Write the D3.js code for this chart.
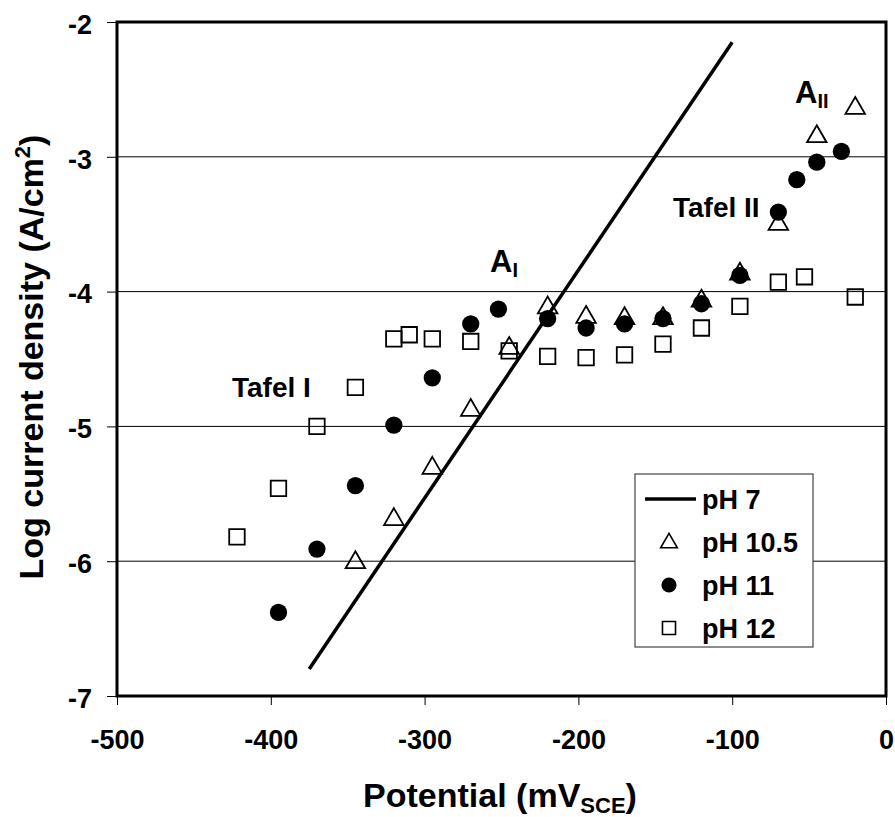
<!DOCTYPE html>
<html>
<head>
<meta charset="utf-8">
<script src="https://cdn.jsdelivr.net/npm/d3@7"></script>
<style>
  html, body { margin: 0; padding: 0; background: #fff; }
  svg { display: block; font-family: "Liberation Sans", Arial, sans-serif; font-weight: bold; }
</style>
</head>
<body>
<svg id="chart" width="895" height="817"></svg>
<script>
// ------------------------
// Data
// ------------------------
const xTicks = [ -500, -400, -300, -200, -100, 0 ];
const yTicks = [ -7, -6, -5, -4, -3, -2 ];

// pH 7: straight Tafel line
const pH7X = [ -375, -100 ];
const pH7Y = [ -6.8, -2.15 ];

const pH105X = [ -345, -320, -295, -270, -245, -220, -195, -170, -145, -120, -95, -70, -45, -20 ];
const pH105Y = [ -6.01, -5.69, -5.31, -4.88, -4.42, -4.12, -4.19, -4.2, -4.2, -4.07, -3.87, -3.5, -2.85, -2.64 ];

const pH11X = [ -395, -370, -345, -320, -295, -270, -252, -220, -195, -170, -145, -120, -95, -70, -58, -45, -29 ];
const pH11Y = [ -6.38, -5.91, -5.44, -4.99, -4.64, -4.24, -4.13, -4.2, -4.27, -4.24, -4.2, -4.09, -3.88, -3.41, -3.17, -3.04, -2.96 ];

const pH12X = [ -422, -395, -370, -345, -320, -310, -295, -270, -245, -220, -195, -170, -145, -120, -95, -70, -53, -20 ];
const pH12Y = [ -5.82, -5.46, -5.0, -4.71, -4.35, -4.32, -4.35, -4.37, -4.44, -4.48, -4.49, -4.47, -4.39, -4.27, -4.11, -3.93, -3.89, -4.04 ];

const zip = ( xs, ys ) => xs.map( ( x, i ) => ( { x, y: ys[ i ] } ) );

// ------------------------
// Layout
// ------------------------
const margin = { top: 22, right: 9, bottom: 121, left: 117 };
const W = 895, H = 817;

const svg = d3.select( '#chart' );

const x = d3.scaleLinear()
	.domain( [ -500, 0 ] )
	.range( [ margin.left, W - margin.right ] );

const y = d3.scaleLinear()
	.domain( [ -7, -2 ] )
	.range( [ H - margin.bottom, margin.top ] );

// plain hyphen minus, like the original
const fmt = d => String( d );

// gridlines
svg.append( 'g' )
	.selectAll( 'line' )
	.data( yTicks.slice( 1, -1 ) )
	.join( 'line' )
	.attr( 'x1', x( -500 ) )
	.attr( 'x2', x( 0 ) )
	.attr( 'y1', d => y( d ) )
	.attr( 'y2', d => y( d ) )
	.attr( 'stroke', '#000' )
	.attr( 'stroke-width', 1 );

// axes
const xAxis = d3.axisBottom( x )
	.tickValues( xTicks )
	.tickFormat( fmt )
	.tickSize( 9 )
	.tickPadding( 25 );

const gx = svg.append( 'g' )
	.attr( 'transform', `translate(0, ${ y( -7 ) })` )
	.call( xAxis );
gx.select( '.domain' ).remove();
gx.selectAll( 'line' ).attr( 'stroke', '#000' );
gx.selectAll( 'text' )
	.attr( 'fill', '#000' )
	.style( 'font-size', '27px' )
	.style( 'font-family', '"Liberation Sans", Arial, sans-serif' )
	.style( 'font-weight', 'bold' );

const yAxis = d3.axisLeft( y )
	.tickValues( yTicks )
	.tickFormat( fmt )
	.tickSize( 10 )
	.tickPadding( 15 );

const gy = svg.append( 'g' )
	.attr( 'transform', `translate(${ x( -500 ) }, 0)` )
	.call( yAxis );
gy.select( '.domain' ).remove();
gy.selectAll( 'line' ).attr( 'stroke', '#000' );
gy.selectAll( 'text' )
	.attr( 'fill', '#000' )
	.attr( 'dy', '0.42em' )
	.style( 'font-size', '27px' )
	.style( 'font-family', '"Liberation Sans", Arial, sans-serif' )
	.style( 'font-weight', 'bold' );

// pH 7 line
const line = d3.line().x( d => x( d.x ) ).y( d => y( d.y ) );
svg.append( 'path' )
	.datum( zip( pH7X, pH7Y ) )
	.attr( 'd', line )
	.attr( 'fill', 'none' )
	.attr( 'stroke', '#000' )
	.attr( 'stroke-width', 3.5 );

// markers
const triangle = d3.symbol().type( d3.symbolTriangle ).size( 165 );
const circle = d3.symbol().type( d3.symbolCircle ).size( 235 );
const square = d3.symbol().type( d3.symbolSquare ).size( 240 );

svg.append( 'g' )
	.selectAll( 'path' )
	.data( zip( pH105X, pH105Y ) )
	.join( 'path' )
	.attr( 'd', triangle )
	.attr( 'transform', d => `translate(${ x( d.x ) }, ${ y( d.y ) })` )
	.attr( 'fill', 'none' )
	.attr( 'stroke', '#000' )
	.attr( 'stroke-width', 1.8 );

svg.append( 'g' )
	.selectAll( 'path' )
	.data( zip( pH11X, pH11Y ) )
	.join( 'path' )
	.attr( 'd', circle )
	.attr( 'transform', d => `translate(${ x( d.x ) }, ${ y( d.y ) })` )
	.attr( 'fill', '#000' );

svg.append( 'g' )
	.selectAll( 'path' )
	.data( zip( pH12X, pH12Y ) )
	.join( 'path' )
	.attr( 'd', square )
	.attr( 'transform', d => `translate(${ x( d.x ) }, ${ y( d.y ) })` )
	.attr( 'fill', 'none' )
	.attr( 'stroke', '#000' )
	.attr( 'stroke-width', 1.8 );

// frame
svg.append( 'rect' )
	.attr( 'x', x( -500 ) )
	.attr( 'y', y( -2 ) )
	.attr( 'width', x( 0 ) - x( -500 ) )
	.attr( 'height', y( -7 ) - y( -2 ) )
	.attr( 'fill', 'none' )
	.attr( 'stroke', '#000' )
	.attr( 'stroke-width', 3 );

// annotations
const notes = svg.append( 'g' ).attr( 'fill', '#000' );
notes.append( 'text' ).attr( 'x', 232 ).attr( 'y', 397 ).style( 'font-size', '28px' ).text( 'Tafel I' );
notes.append( 'text' ).attr( 'x', 673 ).attr( 'y', 217 ).style( 'font-size', '28px' ).text( 'Tafel II' );

const a1 = notes.append( 'text' ).attr( 'x', 490 ).attr( 'y', 272 ).style( 'font-size', '31px' );
a1.append( 'tspan' ).text( 'A' );
a1.append( 'tspan' ).attr( 'dy', 5 ).style( 'font-size', '20px' ).text( 'I' );

const a2 = notes.append( 'text' ).attr( 'x', 795 ).attr( 'y', 103 ).style( 'font-size', '31px' );
a2.append( 'tspan' ).text( 'A' );
a2.append( 'tspan' ).attr( 'dy', 5 ).style( 'font-size', '20px' ).text( 'II' );

// legend
const legend = svg.append( 'g' ).attr( 'transform', 'translate(635, 474)' );
legend.append( 'rect' )
	.attr( 'width', 178 )
	.attr( 'height', 173 )
	.attr( 'fill', '#fff' )
	.attr( 'stroke', '#444' )
	.attr( 'stroke-width', 1.2 );

const legendItems = [ 'pH 7', 'pH 10.5', 'pH 11', 'pH 12' ];
const rowY = i => 25 + i * 43;

legend.append( 'line' )
	.attr( 'x1', 10 ).attr( 'x2', 61 )
	.attr( 'y1', rowY( 0 ) ).attr( 'y2', rowY( 0 ) )
	.attr( 'stroke', '#000' ).attr( 'stroke-width', 3.5 );
legend.append( 'path' )
	.attr( 'd', d3.symbol().type( d3.symbolTriangle ).size( 120 ) )
	.attr( 'transform', `translate(34, ${ rowY( 1 ) + 1 })` )
	.attr( 'fill', 'none' ).attr( 'stroke', '#000' ).attr( 'stroke-width', 1.6 );
legend.append( 'path' )
	.attr( 'd', d3.symbol().type( d3.symbolCircle ).size( 180 ) )
	.attr( 'transform', `translate(34, ${ rowY( 2 ) })` )
	.attr( 'fill', '#000' );
legend.append( 'path' )
	.attr( 'd', d3.symbol().type( d3.symbolSquare ).size( 170 ) )
	.attr( 'transform', `translate(34, ${ rowY( 3 ) })` )
	.attr( 'fill', 'none' ).attr( 'stroke', '#000' ).attr( 'stroke-width', 1.6 );

legend.selectAll( 'text' )
	.data( legendItems )
	.join( 'text' )
	.attr( 'x', 67 )
	.attr( 'y', ( d, i ) => rowY( i ) )
	.attr( 'dy', '0.36em' )
	.style( 'font-size', '27px' )
	.text( d => d );

// axis titles
const xt = svg.append( 'text' )
	.attr( 'x', 500 )
	.attr( 'y', 807 )
	.attr( 'text-anchor', 'middle' )
	.style( 'font-size', '34px' );
xt.append( 'tspan' ).text( 'Potential (mV' );
xt.append( 'tspan' ).attr( 'dy', 6 ).style( 'font-size', '22px' ).text( 'SCE' );
xt.append( 'tspan' ).attr( 'dy', -6 ).text( ')' );

const yt = svg.append( 'text' )
	.attr( 'transform', 'translate(43, 357) rotate(-90)' )
	.attr( 'text-anchor', 'middle' )
	.style( 'font-size', '34px' );
yt.append( 'tspan' ).text( 'Log current density (A/cm' );
yt.append( 'tspan' ).attr( 'dy', -13 ).style( 'font-size', '22px' ).text( '2' );
yt.append( 'tspan' ).attr( 'dy', 13 ).text( ')' );
</script>
</body>
</html>
